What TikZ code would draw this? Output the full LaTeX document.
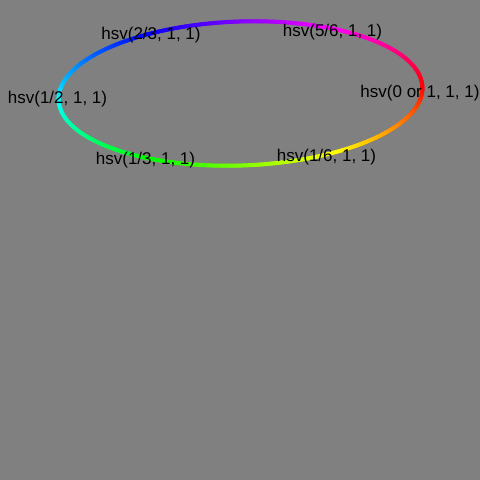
\documentclass[tikz,border=0pt]{standalone}
\usepackage{fontspec}
\setmainfont{Liberation Sans}
\definecolor{Backdrop}{gray}{0.5}

\begin{document}
\begin{tikzpicture}
    [x=1pt, y=-1pt,
    hue label/.style={text=black, inner sep=0pt, font=\fontsize{17}{20}\selectfont}]

    \fill[Backdrop] (0,0) rectangle (480,480);

    % colour ring, one short piece per degree of hue
    \begin{scope}[shift={(240.5,93.5)}, rotate=2, line width=4pt, line cap=round]
        \foreach \h in {0,1,...,359}{
            \definecolor{Ring}{Hsb}{\h,1,1}
            \draw[Ring] (\h:182 and 72) -- (\h+1:182 and 72);
        }
    \end{scope}

    \node[hue label] (hue0) at (420,93.5) {hsv(0 or 1, 1, 1)};
    \node[hue label] (hue1) at (326.5,157) {hsv(1/6, 1, 1)};
    \node[hue label] (hue2) at (145.5,160) {hsv(1/3, 1, 1)};
    \node[hue label] (hue3) at (57.5,99) {hsv(1/2, 1, 1)};
    \node[hue label] (hue4) at (151,35) {hsv(2/3, 1, 1)};
    \node[hue label] (hue5) at (332.5,32) {hsv(5/6, 1, 1)};
\end{tikzpicture}
\end{document}
